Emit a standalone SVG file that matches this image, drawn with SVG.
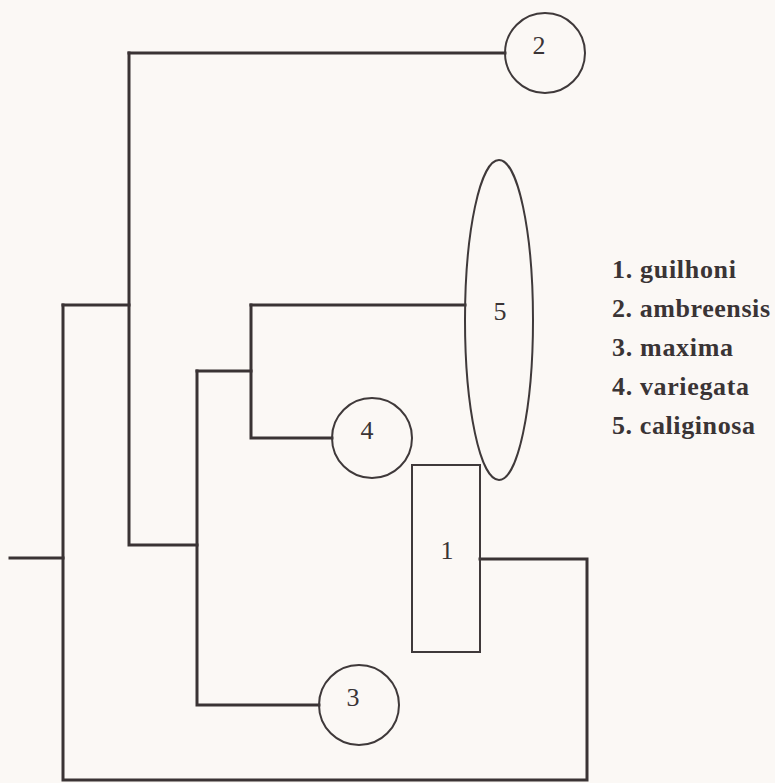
<svg xmlns="http://www.w3.org/2000/svg" width="775" height="783" viewBox="0 0 775 783">
<style>
.edge{fill:none;stroke:#3a3334;stroke-width:3;stroke-linecap:square;stroke-linejoin:miter}
.node{fill:none;stroke:#3f393a;stroke-width:2}
.lbl{font-family:"Liberation Serif","Times New Roman",serif;font-size:26px;fill:#3a3435;text-anchor:middle}
.leg{font-family:"Liberation Serif","Times New Roman",serif;font-size:26px;font-weight:bold;fill:#3a3435}
</style>
<rect x="0" y="0" width="775" height="783" fill="#fbf8f5"/>
<g id="connectors">
<path class="edge" d="M10,558 H63"/>
<path class="edge" d="M63,305 V780 H587 V559 H480"/>
<path class="edge" d="M63,305 H129"/>
<path class="edge" d="M129,53 V545 H197"/>
<path class="edge" d="M129,53 H505"/>
<path class="edge" d="M197,371 V705 H319"/>
<path class="edge" d="M197,371 H251"/>
<path class="edge" d="M251,305 V438 H332"/>
<path class="edge" d="M251,305 H465"/>
</g>
<g id="node1">
<rect class="node" x="412" y="465" width="68" height="187"/>
<text class="lbl" x="447" y="559">1</text>
</g>
<g id="node2">
<circle class="node" cx="545" cy="53" r="40"/>
<text class="lbl" x="539" y="54">2</text>
</g>
<g id="node3">
<circle class="node" cx="359" cy="705" r="40"/>
<text class="lbl" x="353" y="706">3</text>
</g>
<g id="node4">
<circle class="node" cx="372" cy="438" r="40"/>
<text class="lbl" x="367" y="439">4</text>
</g>
<g id="node5">
<ellipse class="node" cx="499" cy="320" rx="34" ry="160"/>
<text class="lbl" x="500" y="320">5</text>
</g>
<g id="legend">
<text class="leg" x="612" y="278" textLength="124" lengthAdjust="spacing">1. guilhoni</text>
<text class="leg" x="612" y="317" textLength="158" lengthAdjust="spacing">2. ambreensis</text>
<text class="leg" x="612" y="356" textLength="121" lengthAdjust="spacing">3. maxima</text>
<text class="leg" x="612" y="395" textLength="137" lengthAdjust="spacing">4. variegata</text>
<text class="leg" x="612" y="434" textLength="143" lengthAdjust="spacing">5. caliginosa</text>
</g>
</svg>
